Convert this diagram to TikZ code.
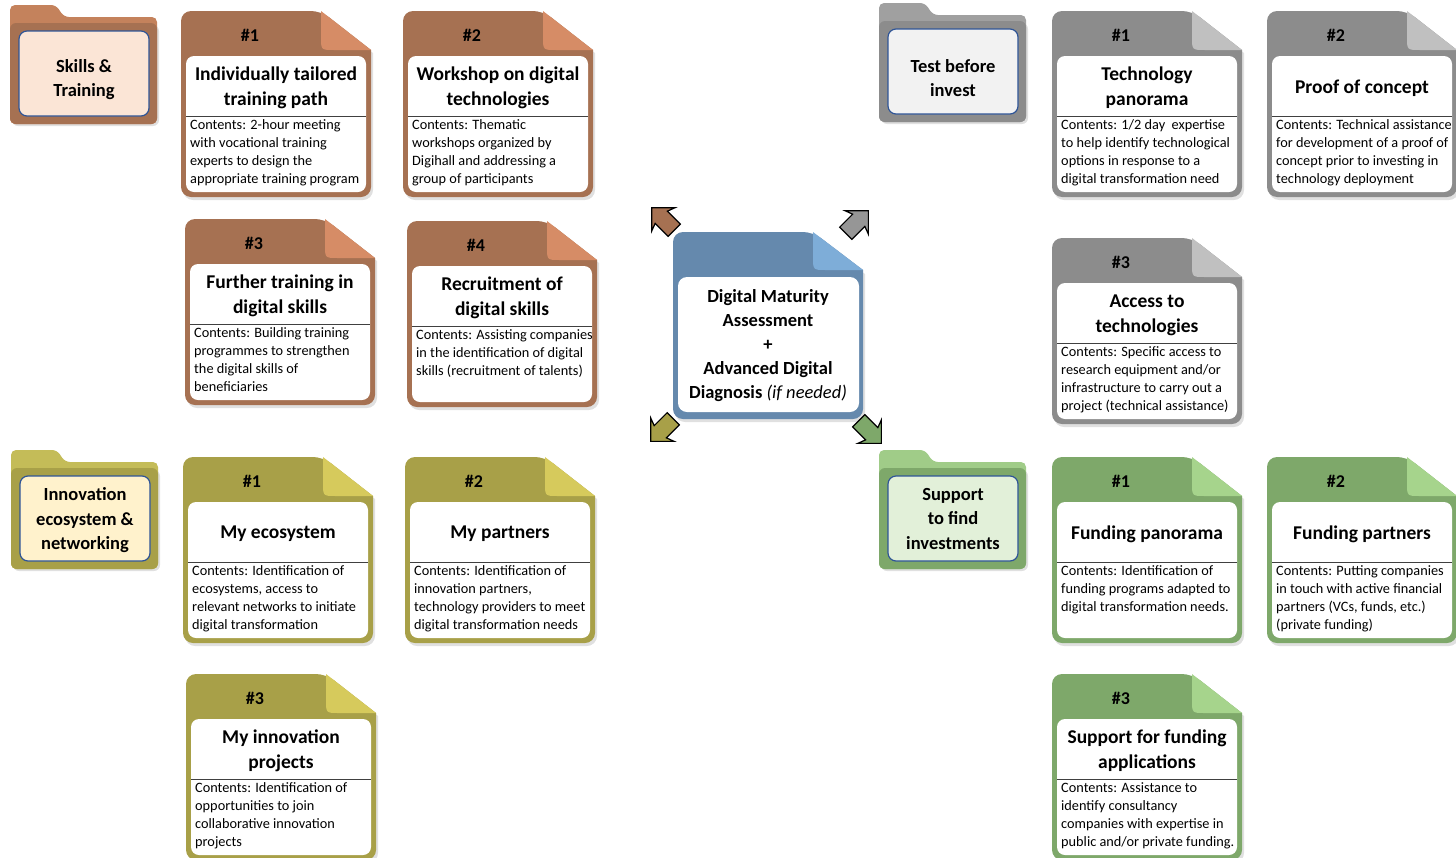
\documentclass[tikz,border=0pt]{standalone}
\usepackage{fontspec}
\setmainfont{Carlito}
\usepackage{tikz}
\usetikzlibrary{shapes,arrows,positioning,calc}

\definecolor{brownbody}{RGB}{166,113,82}
\definecolor{brownfold}{RGB}{214,140,102}
\definecolor{brownback}{RGB}{196,130,92}
\definecolor{brownin}{RGB}{251,229,214}
\definecolor{graybody}{RGB}{140,140,140}
\definecolor{grayfold}{RGB}{192,192,192}
\definecolor{grayback}{RGB}{160,160,160}
\definecolor{grayin}{RGB}{242,242,242}
\definecolor{olivebody}{RGB}{168,160,72}
\definecolor{olivefold}{RGB}{214,202,92}
\definecolor{oliveback}{RGB}{196,188,88}
\definecolor{olivein}{RGB}{255,242,204}
\definecolor{greenbody}{RGB}{126,168,106}
\definecolor{greenfold}{RGB}{166,212,140}
\definecolor{greenback}{RGB}{160,204,136}
\definecolor{greenin}{RGB}{226,240,217}
\definecolor{bluebody}{RGB}{101,137,173}
\definecolor{bluefold}{RGB}{126,173,216}
\definecolor{folderline}{RGB}{47,85,151}
\definecolor{arrowgray}{RGB}{150,150,150}

\tikzset{
  cardnum/.style={font=\fontsize{18}{22}\selectfont\bfseries, inner sep=0pt},
  cardtitle/.style={font=\fontsize{19.5}{25}\selectfont\bfseries, align=center, inner sep=0pt},
  cardtext/.style={font=\fontsize{14.3}{18}\selectfont, align=left, inner sep=0pt, anchor=north west},
  foldertext/.style={font=\fontsize{18.5}{24.5}\selectfont\bfseries, align=center, inner sep=0pt},
  bigarrow/.style={single arrow, draw=black, line width=1.2pt, inner sep=8pt,
    minimum height=32pt, single arrow head extend=8pt, single arrow head indent=3pt},
}

% card: name, position, body colour, fold colour, number, title, contents
\newcommand{\infocard}[7]{%
\begin{scope}[shift={#2}]
\fill[black, opacity=0.12] (2,96) [rounded corners=10] -- (2,3) -- (142,3) [sharp corners] -- (192,42) [rounded corners=10] -- (192,189) -- (2,189) -- cycle;
\fill[#3] (0,93) [rounded corners=10] -- (0,0) -- (140,0) [sharp corners] -- (190,39) [rounded corners=10] -- (190,186) -- (0,186) -- cycle;
\fill[#4] (140,0) -- (140,26) .. controls (140,39) .. (153,39) -- (190,39) -- cycle;
\fill[white, rounded corners=8] (5,45) rectangle (185,181);
\draw[black!75, thin] (5,105) -- (185,105);
\node[cardnum] (#1-num) at (69,24) {#5};
\node[cardtitle] (#1-title) at (95,77) {#6};
\node[cardtext] (#1-text) at (9,108) {#7};
\end{scope}}

% folder: name, position, back colour, front colour, inner colour, text height, text
\newcommand{\infofolder}[7]{%
\begin{scope}[shift={#2}]
\fill[black, opacity=0.12, rounded corners=6] (2,20) rectangle (149,121);
\fill[#3, rounded corners=5] (0,60) -- (0,0) -- (46,0) -- (54,12) -- (147,12) -- (147,119) -- (0,119) -- cycle;
\fill[#4, rounded corners=6] (0,18) rectangle (147,119);
\filldraw[fill=#5, draw=folderline, line width=1.2pt, rounded corners=8] (9,26) rectangle (139,111);
\node[foldertext] (#1) at (74,#6) {#7};
\end{scope}}

\begin{document}
\begin{tikzpicture}[x=1pt, y=-1pt]
\useasboundingbox (0,0) rectangle (1456,857);

% Skills & Training
\infofolder{skills}{(10,5)}{brownback}{brownbody}{brownin}{74.5}{Skills \&\\Training}
\infocard{s1}{(181,11)}{brownbody}{brownfold}{\#1}{Individually tailored\\training path}{Contents: 2-hour meeting\\with vocational training\\experts to design the\\appropriate training program}
\infocard{s2}{(403,11)}{brownbody}{brownfold}{\#2}{Workshop on digital\\technologies}{Contents: Thematic\\workshops organized by\\Digihall and addressing a\\group of participants}
\infocard{s3}{(185,219)}{brownbody}{brownfold}{\#3}{Further training in\\digital skills}{Contents: Building training\\programmes to strengthen\\the digital skills of\\beneficiaries}
\infocard{s4}{(407,221)}{brownbody}{brownfold}{\#4}{Recruitment of\\digital skills}{Contents: Assisting companies\\in the identification of digital\\skills (recruitment of talents)}

% Test before invest
\infofolder{test}{(879,3)}{grayback}{graybody}{grayin}{75}{Test before\\invest}
\infocard{t1}{(1052,11)}{graybody}{grayfold}{\#1}{Technology\\panorama}{Contents: 1/2 day~ expertise\\to help identify technological\\options in response to a\\digital transformation need}
\infocard{t2}{(1267,11)}{graybody}{grayfold}{\#2}{Proof of concept}{Contents: Technical assistance\\for development of a proof of\\concept prior to investing in\\technology deployment}
\infocard{t3}{(1052,238)}{graybody}{grayfold}{\#3}{Access to\\technologies}{Contents: Specific access to\\research equipment and/or\\infrastructure to carry out a\\project (technical assistance)}

% Innovation ecosystem & networking
\infofolder{innov}{(11,450)}{oliveback}{olivebody}{olivein}{70.5}{Innovation\\ecosystem \&\\networking}
\infocard{i1}{(183,457)}{olivebody}{olivefold}{\#1}{My ecosystem}{Contents: Identification of\\ecosystems, access to\\relevant networks to initiate\\digital transformation}
\infocard{i2}{(405,457)}{olivebody}{olivefold}{\#2}{My partners}{Contents: Identification of\\innovation partners,\\technology providers to meet\\digital transformation needs}
\infocard{i3}{(186,674)}{olivebody}{olivefold}{\#3}{My innovation\\projects}{Contents: Identification of\\opportunities to join\\collaborative innovation\\projects}

% Support to find investments
\infofolder{support}{(879,450)}{greenback}{greenbody}{greenin}{68.5}{Support\\to find\\investments}
\infocard{f1}{(1052,457)}{greenbody}{greenfold}{\#1}{Funding panorama}{Contents: Identification of\\funding programs adapted to\\digital transformation needs.}
\infocard{f2}{(1267,457)}{greenbody}{greenfold}{\#2}{Funding partners}{Contents: Putting companies\\in touch with active financial\\partners (VCs, funds, etc.)\\(private funding)}
\infocard{f3}{(1052,674)}{greenbody}{greenfold}{\#3}{Support for funding\\applications}{Contents: Assistance to\\identify consultancy\\companies with expertise in\\public and/or private funding.}

% central card
\begin{scope}[shift={(673,232)}]
\fill[black, opacity=0.12] (2,96) [rounded corners=10] -- (2,3) -- (142,3) [sharp corners] -- (192,42) [rounded corners=10] -- (192,190) -- (2,190) -- cycle;
\fill[bluebody] (0,93) [rounded corners=10] -- (0,0) -- (140,0) [sharp corners] -- (190,38) [rounded corners=10] -- (190,187) -- (0,187) -- cycle;
\fill[bluefold] (140,0) -- (140,25) .. controls (140,38) .. (153,38) -- (190,38) -- cycle;
\fill[white, rounded corners=9] (5,45) rectangle (186,180);
\node[font=\fontsize{18.5}{24}\selectfont\bfseries, align=center, inner sep=0pt] (dma) at (95,114)
  {Digital Maturity\\Assessment\\+\\Advanced Digital\\Diagnosis \textmd{\textit{(if needed)}}};
\end{scope}

% arrows round the central card
\node[bigarrow, fill=brownbody, rotate=135] (toskills) at (666,222) {};
\node[bigarrow, fill=arrowgray, rotate=45] (totest) at (854,225) {};
\node[bigarrow, fill=olivebody, rotate=225] (toinnov) at (665,427) {};
\node[bigarrow, fill=greenbody, rotate=-45] (tosupport) at (867,429) {};
\end{tikzpicture}
\end{document}
